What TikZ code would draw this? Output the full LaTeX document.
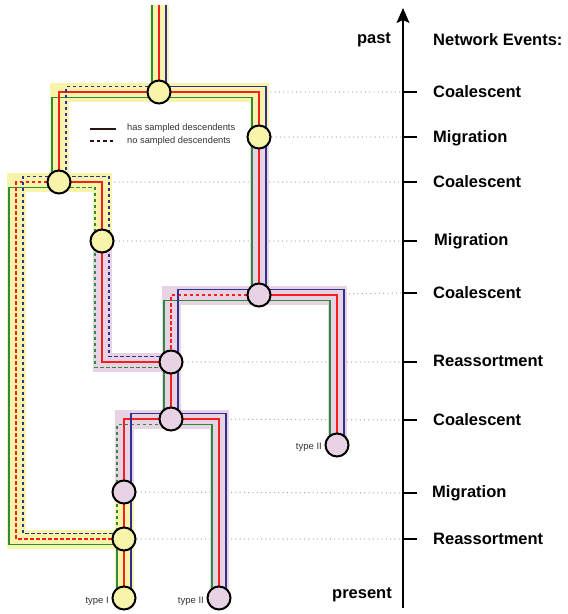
\documentclass[tikz,border=0pt]{standalone}
\usepackage{fontspec}
\setmainfont{Liberation Sans}
\usetikzlibrary{arrows.meta}
\pgfdeclarelayer{bg}
\pgfdeclarelayer{lin}
\pgfsetlayers{bg,lin,main}
\definecolor{bandY}{HTML}{F8F4A9}
\definecolor{bandP}{HTML}{E7D3E3}
\definecolor{lgreen}{HTML}{2F8A3F}
\definecolor{lred}{HTML}{F42020}
\definecolor{lblue}{HTML}{2F3190}
\definecolor{dotgray}{HTML}{AAAAAA}
\definecolor{legcol}{HTML}{2A1515}
\definecolor{txtgray}{HTML}{333333}
\tikzset{
  evt/.style={circle, draw=black, line width=2pt, minimum size=23pt, inner sep=0pt},
  yel/.style={evt, fill=bandY},
  pnk/.style={evt, fill=bandP},
  bandline/.style={line width=19pt, line join=miter},
  segline/.style={line width=1.6pt, line join=miter},
  sol/.style={solid},
  dsh/.style={dash pattern=on 3.5pt off 2.5pt},
  dotline/.style={draw=dotgray, line width=1.4pt, line cap=round, dash pattern=on 0pt off 4.3pt},
  tickline/.style={draw=black, line width=1.5pt},
  evlabel/.style={anchor=west, inner sep=0pt, font=\fontsize{16.5}{19}\selectfont\bfseries},
  typelab/.style={anchor=east, inner sep=0pt, text=txtgray, font=\fontsize{9.5}{11}\selectfont},
  leglab/.style={anchor=west, inner sep=0pt, text=txtgray, font=\fontsize{9.3}{11}\selectfont},
  legline/.style={draw=legcol, line width=1.8pt}
}
\newcommand\drawlineage[5]{%
  \begin{pgfonlayer}{bg}\path[draw=#1,bandline] #2;\end{pgfonlayer}%
  \begin{pgfonlayer}{lin}%
    \begin{scope}[transform canvas={xshift=-7pt,yshift=-5.5pt}]\path[draw=lgreen,segline,#3] #2;\end{scope}%
    \path[draw=lred,segline,#4] #2;%
    \begin{scope}[transform canvas={xshift=7pt,yshift=5.5pt}]\path[draw=lblue,segline,#5] #2;\end{scope}%
  \end{pgfonlayer}}
\begin{document}
\begin{tikzpicture}[x=1pt,y=-1pt]
\useasboundingbox (0,0) rectangle (568,614);
% event nodes
\node[yel] (n1) at (159,92) {};
\node[yel] (n2) at (259,137) {};
\node[yel] (n3) at (59,182) {};
\node[yel] (n4) at (102,241) {};
\node[pnk] (n5) at (259,295) {};
\node[pnk] (n6) at (171,362) {};
\node[pnk] (n7) at (171,419) {};
\node[pnk] (n8) at (337,445) {};
\node[pnk] (n9) at (124,492) {};
\node[yel] (n10) at (124,539) {};
\node[yel] (n11) at (124,598) {};
\node[pnk] (n12) at (219,598) {};
\coordinate (top) at (159,5);
\coordinate (c3l) at (16,182);
% axis coordinates
\coordinate (axbot) at (403,608);
\coordinate (axtop) at (403,8);
\coordinate (t1) at (403,92);
\coordinate (t2) at (403,137);
\coordinate (t3) at (403,182);
\coordinate (t4) at (403,241);
\coordinate (t5) at (403,293);
\coordinate (t6) at (403,362);
\coordinate (t7) at (403,420);
\coordinate (t8) at (403,493);
\coordinate (t9) at (403,539);
% dotted guide lines
\begin{pgfonlayer}{bg}
\draw[dotline] (n1.center) -- (t1);
\draw[dotline] (n2.center) -- (t2);
\draw[dotline] (n3.center) -- (t3);
\draw[dotline] (n4.center) -- (t4);
\draw[dotline] (n5.center) -- (t5);
\draw[dotline] (n6.center) -- (t6);
\draw[dotline] (n7.center) -- (t7);
\draw[dotline] (n9.center) -- (t8);
\draw[dotline] (n10.center) -- (t9);
\end{pgfonlayer}
% root lineage
\begin{pgfonlayer}{bg}\path[draw=bandY,bandline] (top) -- (n1.center);\end{pgfonlayer}
\begin{pgfonlayer}{lin}
\draw[lgreen,segline] ([xshift=-7pt]top) -- ([xshift=-7pt]n1.center);
\draw[lred,segline] (top) -- (n1.center);
\draw[lblue,segline] ([xshift=7pt]top) -- ([xshift=7pt]n1.center);
\end{pgfonlayer}
% lineages
\drawlineage{bandY}{(n1.center) -| (n2.center)}{sol}{sol}{sol}
\drawlineage{bandP}{(n2.center) -- (n5.center)}{sol}{sol}{sol}
\drawlineage{bandY}{(n1.center) -| (n3.center)}{sol}{sol}{dsh}
\drawlineage{bandY}{(n3.center) -- (c3l) |- (n10.center)}{sol}{dsh}{dsh}
\drawlineage{bandY}{(n3.center) -| (n4.center)}{dsh}{sol}{dsh}
\drawlineage{bandP}{(n4.center) |- (n6.center)}{dsh}{sol}{dsh}
\drawlineage{bandP}{(n5.center) -| (n6.center)}{sol}{dsh}{sol}
\drawlineage{bandP}{(n5.center) -| (n8.center)}{sol}{sol}{sol}
\drawlineage{bandP}{(n6.center) -- (n7.center)}{sol}{sol}{sol}
\drawlineage{bandP}{(n7.center) -| (n9.center)}{dsh}{sol}{sol}
\drawlineage{bandP}{(n7.center) -| (n12.center)}{sol}{sol}{sol}
\drawlineage{bandY}{(n9.center) -- (n10.center)}{dsh}{sol}{sol}
\drawlineage{bandY}{(n10.center) -- (n11.center)}{sol}{sol}{sol}
% time axis
\draw[line width=1.5pt, -{Stealth[length=15pt,width=13pt,inset=3pt]}] (axbot) -- (axtop);
\foreach \t in {t1,t2,t3,t4,t5,t6,t7,t8,t9} \draw[tickline] (\t) -- ++(14,0);
\node[font=\fontsize{16.5}{19}\selectfont\bfseries, inner sep=0pt] (past) at (374,40) {past};
\node[font=\fontsize{16.5}{19}\selectfont\bfseries, inner sep=0pt, anchor=east] (present) at (392,595) {present};
\node[evlabel] (hdr) at (433,40) {Network Events:};
\node[evlabel] (l1) at (433,92) {Coalescent};
\node[evlabel] (l2) at (433,138) {Migration};
\node[evlabel] (l3) at (433,182) {Coalescent};
\node[evlabel] (l4) at (434,241) {Migration};
\node[evlabel] (l5) at (433,293) {Coalescent};
\node[evlabel] (l6) at (433,361) {Reassortment};
\node[evlabel] (l7) at (433,420) {Coalescent};
\node[evlabel] (l8) at (432,493) {Migration};
\node[evlabel] (l9) at (433,539) {Reassortment};
% type labels
\node[typelab] (ty1) at (109,601) {type I};
\node[typelab] (ty2) at (204,601) {type II};
\node[typelab] (ty3) at (322,447) {type II};
% legend
\coordinate (la1) at (90,129);
\coordinate (lb1) at (116,129);
\coordinate (la2) at (90,141);
\coordinate (lb2) at (116,141);
\draw[legline] (la1) -- (lb1);
\draw[legline, dash pattern=on 3.5pt off 3pt] (la2) -- (lb2);
\node[leglab] (lg1) at (127,128) {has sampled descendents};
\node[leglab] (lg2) at (127,141) {no sampled descendents};
\end{tikzpicture}
\end{document}
